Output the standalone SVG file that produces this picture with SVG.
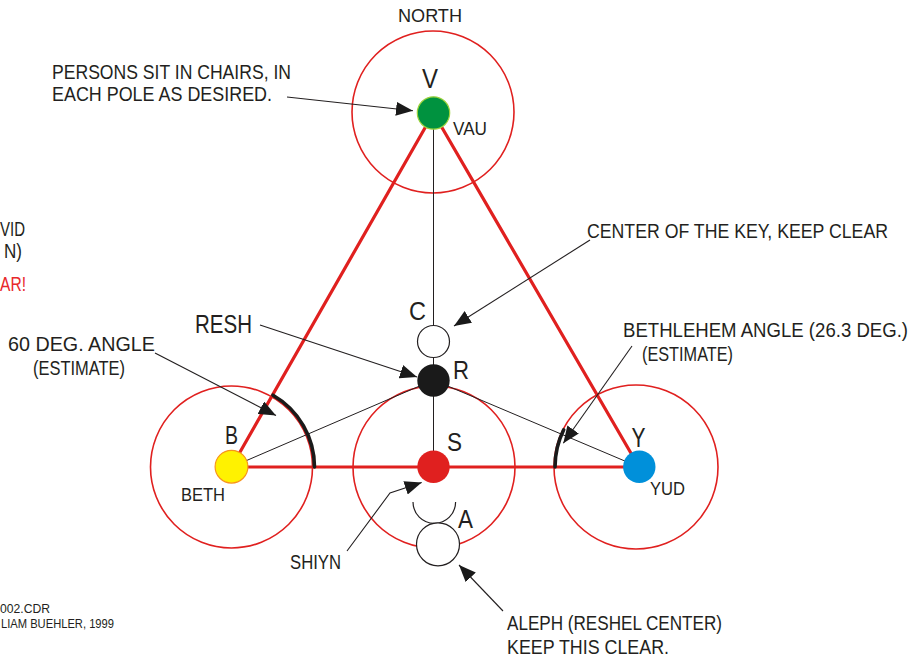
<svg xmlns="http://www.w3.org/2000/svg" width="917" height="662" viewBox="0 0 917 662">
<style>
.t{font-family:"Liberation Sans",Arial,sans-serif;fill:#231f20;}
.big{font-size:26px;}
.lab{font-size:21px;}
.sm{font-size:18px;}
.ring{fill:none;stroke:#e0201f;stroke-width:1.6;}
.tri{fill:none;stroke:#e0201f;stroke-width:3.2;stroke-linecap:round;stroke-linejoin:round;}
.thin{fill:none;stroke:#231f20;stroke-width:1;}
.arc{fill:none;stroke:#1a1a1a;stroke-width:3.6;stroke-linecap:round;}
.arr{fill:none;stroke:#231f20;stroke-width:1.1;marker-end:url(#ah);}
.open{fill:#fff;stroke:#231f20;stroke-width:1.2;}
</style>
<defs>
<marker id="ah" viewBox="0 0 17 14" refX="17" refY="7" markerWidth="17" markerHeight="14" markerUnits="userSpaceOnUse" orient="auto">
<path d="M0,0 L17,7 L0,14 Z" fill="#1a1a1a"/>
</marker>
</defs>
<rect width="917" height="662" fill="#fff"/>

<g id="rings">
<circle class="ring" cx="433" cy="112" r="81"/>
<circle class="ring" cx="231.5" cy="467" r="81"/>
<circle class="ring" cx="434" cy="467" r="81"/>
<circle class="ring" cx="636" cy="467" r="82"/>
</g>

<g id="connectors">
<path class="tri" d="M231.5,467 L433.5,113 L639,467 Z"/>
<line class="thin" x1="433.5" y1="113" x2="433.5" y2="467"/>
<line class="thin" x1="231.5" y1="467" x2="433.5" y2="380"/>
<line class="thin" x1="433.5" y1="380" x2="639" y2="467"/>
<path class="arc" d="M273,395.2 A83,83 0 0 1 314.5,467"/>
<path class="arc" d="M563.7,429.8 A84,84 0 0 0 555,467"/>
<path class="arr" d="M287,97 L413,110.7"/>
<path class="arr" d="M590,240 L454,326"/>
<path class="arr" d="M260,325 L417,377"/>
<path class="arr" d="M155,353 L276,415.5"/>
<path class="arr" d="M632,346 L563.3,443.3"/>
<path class="arr" d="M347,551 L390,493 L421.7,482.5"/>
<path class="arr" d="M503,611 L459,565"/>
</g>

<g id="node-V">
<circle cx="433.5" cy="113" r="16.2" fill="#00923f" stroke="#9bd23c" stroke-width="1.2"/>
<text class="t" x="422" y="88" font-size="27" textLength="16" lengthAdjust="spacingAndGlyphs">V</text>
<text class="t sm" x="453" y="135" font-size="19" textLength="34" lengthAdjust="spacingAndGlyphs">VAU</text>
<text class="t" x="398" y="22" font-size="19" textLength="64" lengthAdjust="spacingAndGlyphs">NORTH</text>
</g>

<g id="node-C">
<circle class="open" cx="433.5" cy="341.5" r="16"/>
<text class="t big" x="409" y="320" textLength="17" lengthAdjust="spacingAndGlyphs">C</text>
</g>

<g id="node-R">
<circle cx="433.5" cy="380.5" r="16.2" fill="#1a1a1a"/>
<text class="t big" x="453" y="379" textLength="16" lengthAdjust="spacingAndGlyphs">R</text>
</g>

<g id="node-B">
<circle cx="231.5" cy="466.7" r="16.4" fill="#fff200" stroke="#f7941d" stroke-width="1.2"/>
<text class="t big" x="225" y="444" textLength="13" lengthAdjust="spacingAndGlyphs">B</text>
<text class="t sm" x="181" y="501" textLength="44" lengthAdjust="spacingAndGlyphs">BETH</text>
</g>

<g id="node-S">
<circle cx="433.5" cy="466.7" r="16.2" fill="#e0201f"/>
<text class="t big" x="447" y="451" textLength="15" lengthAdjust="spacingAndGlyphs">S</text>
</g>

<g id="node-Y">
<circle cx="639.3" cy="466.7" r="16.2" fill="#0090da"/>
<text class="t" x="631.5" y="447" font-size="27" textLength="14" lengthAdjust="spacingAndGlyphs">Y</text>
<text class="t sm" x="650" y="495" textLength="35" lengthAdjust="spacingAndGlyphs">YUD</text>
</g>

<g id="node-A">
<path d="M413,502 A21.3,21.3 0 0 0 455.6,502" fill="none" stroke="#231f20" stroke-width="1.2"/>
<circle class="open" cx="438" cy="544.3" r="21.5"/>
<text class="t" x="458" y="528" font-size="25" textLength="15" lengthAdjust="spacingAndGlyphs">A</text>
</g>

<g id="labels">
<text class="t lab" x="52" y="79" textLength="239" lengthAdjust="spacingAndGlyphs">PERSONS SIT IN CHAIRS, IN</text>
<text class="t lab" x="52" y="101" textLength="220" lengthAdjust="spacingAndGlyphs">EACH POLE AS DESIRED.</text>
<g transform="translate(587,238) scale(1,1.13)">
<text class="t" x="0" y="0" font-size="18.5" textLength="301" lengthAdjust="spacingAndGlyphs">CENTER OF THE KEY, KEEP CLEAR</text>
</g>
<g transform="translate(623,337) scale(1,1.13)">
<text class="t" x="0" y="0" font-size="18.5" textLength="285" lengthAdjust="spacingAndGlyphs">BETHLEHEM ANGLE (26.3 DEG.)</text>
</g>
<text class="t lab" x="642" y="361" textLength="91" lengthAdjust="spacingAndGlyphs">(ESTIMATE)</text>
<text class="t" x="8" y="351" font-size="20" textLength="147" lengthAdjust="spacingAndGlyphs">60 DEG. ANGLE</text>
<text class="t" x="33" y="375" font-size="20" textLength="92" lengthAdjust="spacingAndGlyphs">(ESTIMATE)</text>
<text class="t" x="195" y="333" font-size="26" textLength="57" lengthAdjust="spacingAndGlyphs">RESH</text>
<text class="t" x="290" y="569" font-size="20" textLength="51" lengthAdjust="spacingAndGlyphs">SHIYN</text>
<text class="t lab" x="507" y="630" textLength="215" lengthAdjust="spacingAndGlyphs">ALEPH (RESHEL CENTER)</text>
<text class="t lab" x="507" y="654" textLength="162" lengthAdjust="spacingAndGlyphs">KEEP THIS CLEAR.</text>
<text class="t lab" x="0" y="236" textLength="25" lengthAdjust="spacingAndGlyphs">VID</text>
<text class="t lab" x="4" y="258" textLength="18" lengthAdjust="spacingAndGlyphs">N)</text>
<text class="t lab" x="0" y="291" style="fill:#e8282b" textLength="26" lengthAdjust="spacingAndGlyphs">AR!</text>
<text class="t" x="0" y="613" font-size="13" textLength="50" lengthAdjust="spacingAndGlyphs">002.CDR</text>
<text class="t" x="1" y="628" font-size="13" textLength="113" lengthAdjust="spacingAndGlyphs">LIAM BUEHLER, 1999</text>
</g>
</svg>
